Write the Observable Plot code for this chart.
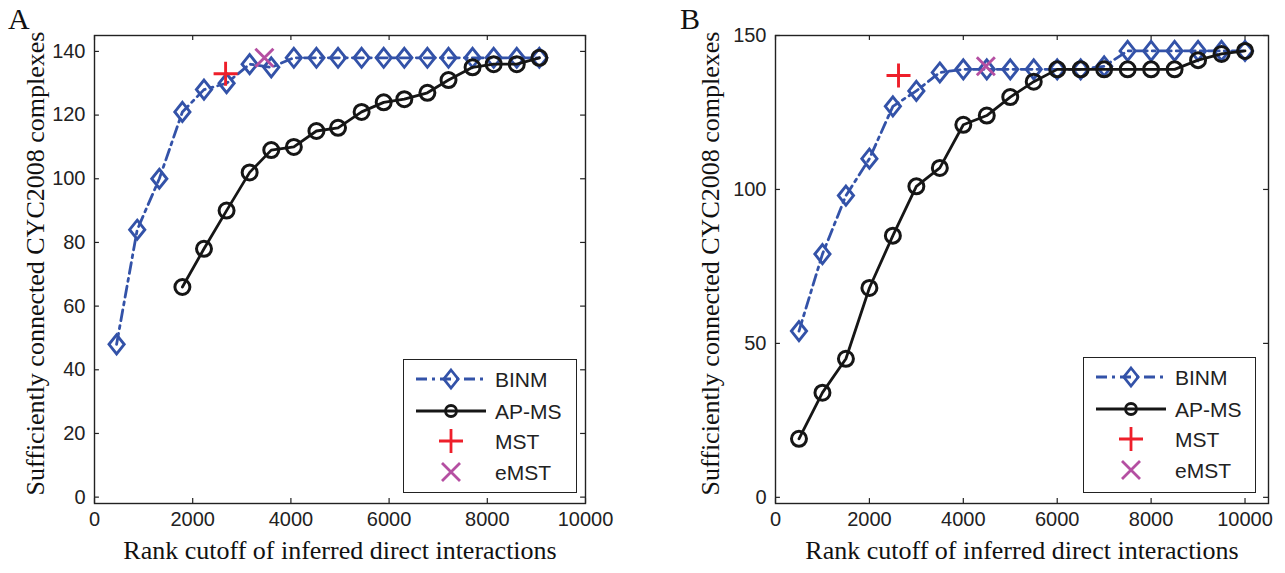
<!DOCTYPE html>
<html><head><meta charset="utf-8">
<script src="https://cdn.jsdelivr.net/npm/d3@7"></script>
<script src="https://cdn.jsdelivr.net/npm/@observablehq/plot@0.6"></script>
<style>
body{margin:0;background:#fff;}
#wrap{position:relative;width:1285px;height:573px;overflow:hidden;background:#fff;}
.panel{position:absolute;top:0;}
.letter{position:absolute;font-family:"Liberation Serif","Times New Roman",serif;font-size:30px;line-height:30px;color:#111;}
.legend{position:absolute;border:1.3px solid #222;background:#fff;box-sizing:border-box;}
.legend svg{display:block;}
</style></head><body><div id="wrap"></div>
<script>
// ---- text ----
const panelLabels = ["A", "B"];
const xLabel = "Rank cutoff of inferred direct interactions";
const yLabel = "Sufficiently connected CYC2008 complexes";
const seriesNames = ["BINM", "AP-MS", "MST", "eMST"];

// ---- ticks ----
const xTicks = [0, 2000, 4000, 6000, 8000, 10000];
const aYTicks = [0, 20, 40, 60, 80, 100, 120, 140];
const bYTicks = [0, 50, 100, 150];

// ---- panel A data ----
const aBinmX = [450, 870, 1320, 1790, 2230, 2690, 3160, 3600, 4060, 4520, 4960, 5440, 5890, 6310, 6780, 7210, 7700, 8130, 8600, 9060];
const aBinmY = [48, 84, 100, 121, 128, 130, 136, 135, 138, 138, 138, 138, 138, 138, 138, 138, 138, 138, 138, 138];
const aApmsX = [1790, 2230, 2690, 3160, 3600, 4060, 4520, 4960, 5440, 5890, 6310, 6780, 7210, 7700, 8130, 8600, 9060];
const aApmsY = [66, 78, 90, 102, 109, 110, 115, 116, 121, 124, 125, 127, 131, 135, 136, 136, 138];
const aMstX = [2670], aMstY = [133];
const aEmstX = [3460], aEmstY = [138];

// ---- panel B data ----
const bBinmX = [500, 1000, 1500, 2000, 2500, 3000, 3500, 4000, 4500, 5000, 5500, 6000, 6500, 7000, 7500, 8000, 8500, 9000, 9500, 10000];
const bBinmY = [54, 79, 98, 110, 127, 132, 138, 139, 139, 139, 139, 139, 139, 140, 145, 145, 145, 145, 145, 145];
const bApmsX = [500, 1000, 1500, 2000, 2500, 3000, 3500, 4000, 4500, 5000, 5500, 6000, 6500, 7000, 7500, 8000, 8500, 9000, 9500, 10000];
const bApmsY = [19, 34, 45, 68, 85, 101, 107, 121, 124, 130, 135, 139, 139, 139, 139, 139, 139, 142, 144, 145];
const bMstX = [2620], bMstY = [137];
const bEmstX = [4480], bEmstY = [140];

// ---- styles ----
const BLUE = "#3352a8", BLACK = "#161616", RED = "#ee1f2a", MAG = "#b54fa2";
const DASH = "11,5,3,5";

const diamondSym = {draw(ctx, size) { const h = Math.sqrt(size / Math.PI); const w = h * 0.8;
  ctx.moveTo(0, -h); ctx.lineTo(w, 0); ctx.lineTo(0, h); ctx.lineTo(-w, 0); ctx.closePath(); }};
const plusSym = {draw(ctx, size) { const h = Math.sqrt(size / Math.PI);
  ctx.moveTo(-h, 0); ctx.lineTo(h, 0); ctx.moveTo(0, -h); ctx.lineTo(0, h); }};
const timesSym = {draw(ctx, size) { const h = Math.sqrt(size / Math.PI);
  ctx.moveTo(-h, -h); ctx.lineTo(h, h); ctx.moveTo(-h, h); ctx.lineTo(h, -h); }};

const zip = (xs, ys) => xs.map((x, i) => ({x, y: ys[i]}));
const SERIF = "'Liberation Serif', 'Times New Roman', serif";

function panel(o) {
  const binm = zip(o.binmX, o.binmY), apms = zip(o.apmsX, o.apmsY);
  const mst = zip(o.mstX, o.mstY), emst = zip(o.emstX, o.emstY);
  const [x0, x1] = o.xDomain, [y0, y1] = o.yDomain;
  return Plot.plot({
    width: o.width, height: 573,
    marginLeft: o.marginLeft, marginRight: o.marginRight, marginTop: 35, marginBottom: 70,
    x: {domain: o.xDomain}, y: {domain: o.yDomain},
    style: {fontFamily: "'Liberation Sans', Arial, sans-serif", fontSize: "20px", color: "#222", background: "transparent"},
    marks: [
      Plot.ruleX(xTicks, {x: d => d, y1: y0, y2: y0 + o.yTickLen, stroke: "#222", strokeWidth: 1.2}),
      Plot.ruleX(xTicks, {x: d => d, y1: y1, y2: y1 - o.yTickLen, stroke: "#222", strokeWidth: 1.2}),
      Plot.ruleY(o.yTicks, {y: d => d, x1: x0, x2: x0 + o.xTickLen, stroke: "#222", strokeWidth: 1.2}),
      Plot.ruleY(o.yTicks, {y: d => d, x1: x1, x2: x1 - o.xTickLen, stroke: "#222", strokeWidth: 1.2}),
      Plot.frame({stroke: "#222", strokeWidth: 1.4}),
      Plot.axisX(xTicks, {anchor: "bottom", tickSize: 0, tickPadding: 8, label: null, fontSize: 20, tickFormat: d => String(d)}),
      Plot.axisY(o.yTicks, {anchor: "left", tickSize: 0, tickPadding: 9, label: null, fontSize: 20, tickFormat: d => String(d)}),
      Plot.text([xLabel], {frameAnchor: "bottom", textAnchor: "middle", dy: 55, text: d => d, fontFamily: SERIF, fontSize: 26, fill: "#111"}),
      Plot.text([yLabel], {frameAnchor: "left", textAnchor: "middle", rotate: -90, dx: o.yLabelDx, dy: -6, text: d => d, fontFamily: SERIF, fontSize: 26, fill: "#111"}),
      Plot.line(binm, {x: "x", y: "y", stroke: BLUE, strokeWidth: 2.8, strokeDasharray: DASH}),
      Plot.dot(binm, {x: "x", y: "y", symbol: diamondSym, r: 9.5, stroke: BLUE, strokeWidth: 2.9, fill: "none"}),
      Plot.line(apms, {x: "x", y: "y", stroke: BLACK, strokeWidth: 2.8}),
      Plot.dot(apms, {x: "x", y: "y", r: 7.5, stroke: BLACK, strokeWidth: 3, fill: "none"}),
      Plot.dot(mst, {x: "x", y: "y", symbol: plusSym, r: 12, stroke: RED, strokeWidth: 2.9}),
      Plot.dot(emst, {x: "x", y: "y", symbol: timesSym, r: 9, stroke: MAG, strokeWidth: 2.9})
    ]
  });
}

const wrap = document.getElementById("wrap");

function place(el, left) { el.classList.add("panel"); el.style.left = left + "px"; wrap.appendChild(el); }

place(panel({binmX: aBinmX, binmY: aBinmY, apmsX: aApmsX, apmsY: aApmsY, mstX: aMstX, mstY: aMstY, emstX: aEmstX, emstY: aEmstY,
  xDomain: [0, 10000], yDomain: [-2, 145], yTicks: aYTicks, width: 640, marginLeft: 94, marginRight: 55,
  xTickLen: 100, yTickLen: 1.6, yLabelDx: -59}), 0);
place(panel({binmX: bBinmX, binmY: bBinmY, apmsX: bApmsX, apmsY: bApmsY, mstX: bMstX, mstY: bMstY, emstX: bEmstX, emstY: bEmstY,
  xDomain: [0, 10500], yDomain: [-2, 150], yTicks: bYTicks, width: 645, marginLeft: 135, marginRight: 17,
  xTickLen: 105, yTickLen: 1.6, yLabelDx: -65}), 640);

// panel letters
[[panelLabels[0], 8], [panelLabels[1], 680]].forEach(([t, left]) => {
  const d = document.createElement("div"); d.className = "letter"; d.textContent = t;
  d.style.left = left + "px"; d.style.top = "4px"; wrap.appendChild(d);
});

// legends
function legend(left, top, w, h) {
  const div = document.createElement("div"); div.className = "legend";
  Object.assign(div.style, {left: left + "px", top: top + "px", width: w + "px", height: h + "px"});
  wrap.appendChild(div);
  const svg = d3.select(div).append("svg").attr("width", w - 2).attr("height", h - 2);
  const rows = [19, 51, 81, 112];
  const styles = [
    {stroke: BLUE, dash: DASH, line: true, sym: diamondSym, r: 9, fill: "none"},
    {stroke: BLACK, dash: null, line: true, sym: d3.symbolCircle, r: 5.5, fill: "none"},
    {stroke: RED, line: false, sym: plusSym, r: 12},
    {stroke: MAG, line: false, sym: timesSym, r: 9}
  ];
  seriesNames.forEach((name, i) => {
    const s = styles[i], y = rows[i];
    const g = svg.append("g");
    if (s.line) g.append("line").attr("x1", 12).attr("x2", 82).attr("y1", y).attr("y2", y)
      .attr("stroke", s.stroke).attr("stroke-width", 2.8).attr("stroke-dasharray", s.dash);
    g.append("path").attr("transform", `translate(47,${y})`)
      .attr("d", d3.symbol(s.sym, Math.PI * s.r * s.r)())
      .attr("fill", "none").attr("stroke", s.stroke).attr("stroke-width", 2.8);
    g.append("text").attr("x", 91).attr("y", y).attr("dy", "0.36em").text(name)
      .attr("font-family", "'Liberation Sans', Arial, sans-serif").attr("font-size", 21).attr("fill", "#222");
  });
}
legend(403, 359, 174, 134);
legend(1083, 357, 173, 136);
</script></body></html>
